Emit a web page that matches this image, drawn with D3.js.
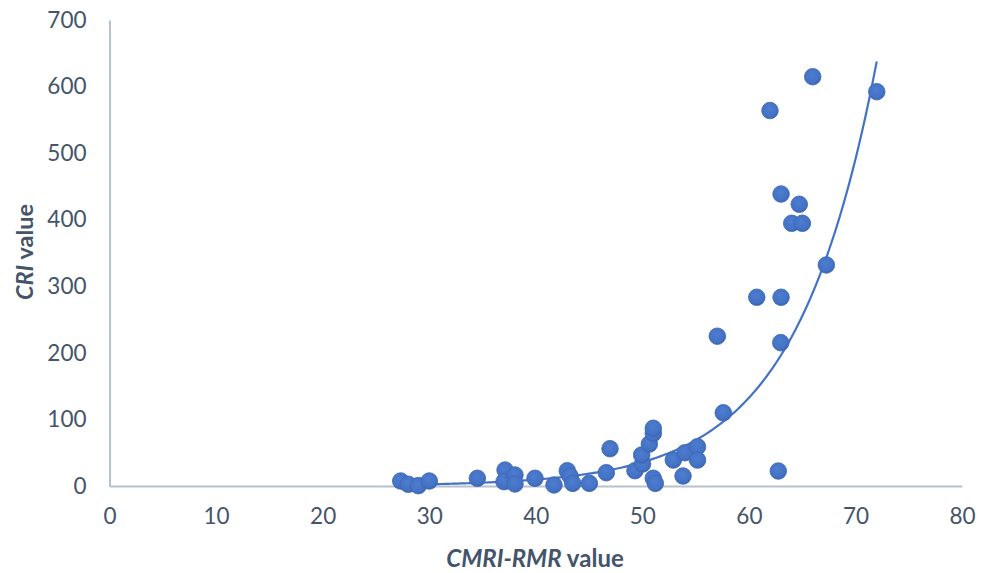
<!DOCTYPE html>
<html>
<head>
<meta charset="utf-8">
<script src="https://cdn.jsdelivr.net/npm/d3@7"></script>
<style>
  html, body { margin: 0; padding: 0; background: #ffffff; }
  svg { display: block; }
  text { font-family: Lato, "Open Sans", "Noto Sans", sans-serif; fill: #44546a; }
</style>
</head>
<body>
<svg id="chart" width="989" height="573"></svg>
<script>
// Observed pairs: CMRI-RMR rating (x) and CRI value (y)
const cmriRmr = [
  27.33, 28.04, 28.98, 30.01, 34.52, 37.12, 37.02, 38.05, 38.05, 39.93,
  41.71, 42.96, 43.22, 43.47, 45.03, 46.62, 46.97, 49.31, 50.02, 49.94,
  50.66, 51.03, 51.03, 51.03, 51.22, 52.91, 53.82, 54.01, 55.18, 55.18,
  57.04, 57.60, 60.74, 61.98, 62.76, 63.02, 63.02, 62.99, 64.02, 64.73,
  65.02, 65.99, 67.27, 72.00
];
const criValues = [
  7.5, 2.6, 0.5, 7.5, 11.6, 24, 6.5, 16.5, 3, 11.6,
  1.5, 23, 15, 4, 4, 20, 56, 23, 33, 46.6,
  63, 79, 86.7, 11.6, 4, 39, 15, 50, 59, 39,
  225, 110, 283.5, 564, 22.5, 438.6, 283.5, 215.3, 394.6, 423.2,
  394.6, 614.8, 332, 592.3
];

// Exponential trendline CRI = a * exp(b * x)
const trendA = 0.0511;
const trendB = 0.131;

// Axis ticks
const xTicks = [0, 10, 20, 30, 40, 50, 60, 70, 80];
const yTicks = [0, 100, 200, 300, 400, 500, 600, 700];

const svg = d3.select("#chart");
const plotLeft = 109.5, plotRight = 962, plotTop = 20, plotBottom = 486;

const x = d3.scaleLinear().domain([0, 80]).range([plotLeft, plotRight]);
const y = d3.scaleLinear().domain([0, 700]).range([plotBottom, plotTop]);

const defs = svg.append("defs");
const grad = defs.append("radialGradient").attr("id", "dotFill")
  .attr("cx", "45%").attr("cy", "40%").attr("r", "60%");
grad.append("stop").attr("offset", "0%").attr("stop-color", "#4d7dd1");
grad.append("stop").attr("offset", "75%").attr("stop-color", "#4472c4");
grad.append("stop").attr("offset", "100%").attr("stop-color", "#3a64b0");

// Axes (lines only, no tick marks)
const axisColor = "#b8c2ce";
const xAxis = d3.axisBottom(x).tickValues(xTicks).tickSize(0).tickPadding(22);
const yAxis = d3.axisLeft(y).tickValues(yTicks).tickSize(0).tickPadding(23);

const gx = svg.append("g").attr("transform", `translate(0,${plotBottom})`).call(xAxis);
const gy = svg.append("g").attr("transform", `translate(${plotLeft},0)`).call(yAxis);

[gx, gy].forEach(g => {
  g.select(".domain").attr("stroke", axisColor).attr("stroke-width", 2);
  g.selectAll(".tick text")
    .attr("font-family", "Lato, 'Open Sans', sans-serif")
    .attr("font-size", 22.5)
    .attr("fill", "#44546a");
});

// Trendline across the data range
const xMin = d3.min(cmriRmr), xMax = d3.max(cmriRmr);
const trendPts = d3.range(0, 201).map(i => {
  const xv = xMin + (xMax - xMin) * i / 200;
  return [xv, trendA * Math.exp(trendB * xv)];
});
svg.append("path")
  .datum(trendPts)
  .attr("fill", "none")
  .attr("stroke", "#4472c4")
  .attr("stroke-width", 2.2)
  .attr("d", d3.line().x(d => x(d[0])).y(d => y(d[1])));

// Scatter points
const pts = cmriRmr.map((v, i) => ({ x: v, y: criValues[i] }));
svg.append("g").selectAll("circle")
  .data(pts)
  .join("circle")
  .attr("cx", d => x(d.x))
  .attr("cy", d => y(d.y))
  .attr("r", 8.3)
  .attr("fill", "url(#dotFill)")
  .attr("stroke", "#3d67b5")
  .attr("stroke-width", 0.8);

// Axis titles
const xt = svg.append("text")
  .attr("x", 535)
  .attr("y", 567)
  .attr("text-anchor", "middle")
  .attr("font-size", 24)
  .attr("font-weight", "bold");
xt.append("tspan").attr("font-style", "italic").text("CMRI-RMR");
xt.append("tspan").text(" value");

const yt = svg.append("text")
  .attr("transform", "translate(33,252) rotate(-90)")
  .attr("text-anchor", "middle")
  .attr("font-size", 23.5)
  .attr("font-weight", "bold");
yt.append("tspan").attr("font-style", "italic").text("CRI");
yt.append("tspan").text(" value");
</script>
</body>
</html>
